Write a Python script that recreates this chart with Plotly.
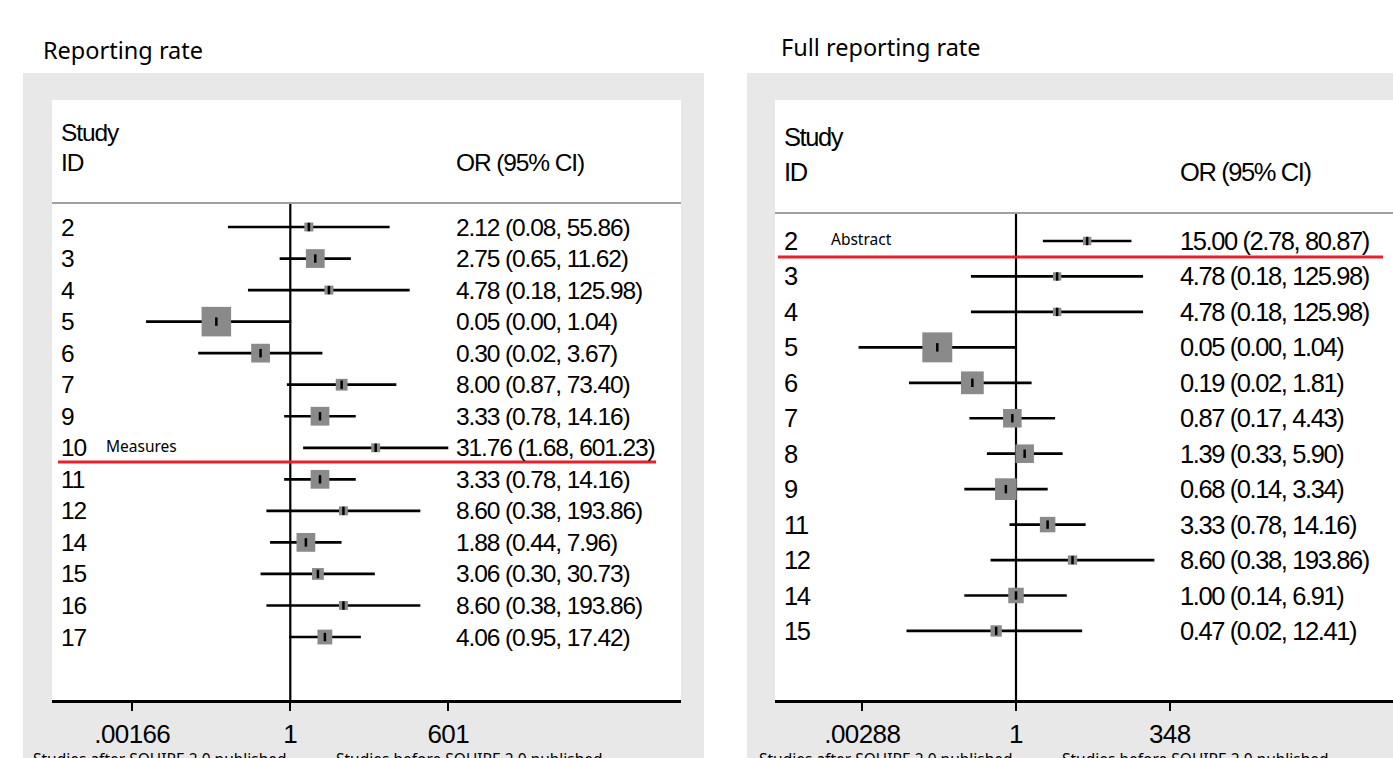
import numpy as np
import plotly.graph_objects as go

W, H = 1393, 758

# ---- Reporting rate ----
ids_a = ["2", "3", "4", "5", "6", "7", "9", "10", "11", "12", "14", "15", "16", "17"]
or_a = [2.12, 2.75, 4.78, 0.05, 0.30, 8.00, 3.33, 31.76, 3.33, 8.60, 1.88, 3.06, 8.60, 4.06]
lo_a = [0.08, 0.65, 0.18, 0.0029, 0.024, 0.87, 0.78, 1.68, 0.78, 0.38, 0.44, 0.30, 0.38, 0.95]
hi_a = [55.86, 11.62, 125.98, 1.04, 3.67, 73.40, 14.16, 601.23, 14.16, 193.86, 7.96, 30.73, 193.86, 17.42]
wt_a = [2.3, 10.1, 2.3, 25.1, 10.1, 4.0, 10.1, 2.3, 10.1, 2.3, 10.1, 4.0, 2.3, 6.3]
ticks_a = [0.00166, 1, 601]
ticktext_a = [".00166", "1", "601"]

# ---- Full reporting rate ----
ids_b = ["2", "3", "4", "5", "6", "7", "8", "9", "11", "12", "14", "15"]
or_b = [15.00, 4.78, 4.78, 0.05, 0.19, 0.87, 1.39, 0.68, 3.33, 8.60, 1.00, 0.47]
lo_b = [2.78, 0.18, 0.18, 0.0025, 0.017, 0.17, 0.33, 0.14, 0.78, 0.38, 0.14, 0.0155]
hi_b = [80.87, 125.98, 125.98, 1.04, 1.81, 4.43, 5.90, 3.34, 14.16, 193.86, 6.91, 12.41]
wt_b = [2.0, 2.0, 2.0, 25.8, 14.9, 9.9, 9.9, 13.5, 6.9, 2.5, 6.9, 3.7]
ticks_b = [0.00288, 1, 348]
ticktext_b = [".00288", "1", "348"]

SANS = "Liberation Sans, Arial, sans-serif"
UI = "Noto Sans, Open Sans, sans-serif"
GRAY_BG = "#e8e8e8"


def px(x):
    return x / W


def py(y):
    return 1 - y / H


def tight(txt, ls):
    # condensed look: pull the glyphs slightly closer together
    return f'<span style="letter-spacing:{ls}px">{txt}</span>'


fig = go.Figure()
shapes = []
annotations = []

panels = [
    dict(ids=ids_a, orv=or_a, lo=lo_a, hi=hi_a, wt=wt_a, ticks=ticks_a, ticktext=ticktext_a,
         xa="x", ya="y", xaxis="xaxis", yaxis="yaxis",
         gray=(23, 73, 704, 758), white=(52, 100, 681, 700),
         one_px=290.3, per_dec=56.85, row0=227, row_step=31.54,
         header_y=203, id_x=59, val_x=454, study_y=132, idhdr_y=162,
         title="Reporting rate", title_x=41, title_y=50, fs=24.5, ls=-1.1,
         note="Measures", note_x=104, note_after=7, red=(58, 656),
         foot=[(31, "Studies after SQUIRE 2.0 published"), (334, "Studies before SQUIRE 2.0 published")]),
    dict(ids=ids_b, orv=or_b, lo=lo_b, hi=hi_b, wt=wt_b, ticks=ticks_b, ticktext=ticktext_b,
         xa="x2", ya="y2", xaxis="xaxis2", yaxis="yaxis2",
         gray=(747, 73, 1393, 758), white=(775, 100, 1393, 700),
         one_px=1016.0, per_dec=60.5, row0=241, row_step=35.45,
         header_y=213, id_x=782, val_x=1178, study_y=137, idhdr_y=172,
         title="Full reporting rate", title_x=779, title_y=47, fs=25.5, ls=-1.4,
         note="Abstract", note_x=829, note_after=0, red=(778, 1383),
         foot=[(757, "Studies after SQUIRE 2.0 published"), (1060, "Studies before SQUIRE 2.0 published")]),
]

layout_axes = {}
for p in panels:
    n = len(p["ids"])
    rows = list(range(n))
    gx0, gy0, gx1, gy1 = p["gray"]
    wx0, wy0, wx1, wy1 = p["white"]
    fs, ls = p["fs"], p["ls"]

    # panel background and plotting region
    shapes.append(dict(type="rect", xref="paper", yref="paper", layer="below",
                       x0=px(gx0), x1=px(gx1), y0=py(gy1), y1=py(gy0),
                       fillcolor=GRAY_BG, line=dict(width=0)))
    shapes.append(dict(type="rect", xref="paper", yref="paper", layer="below",
                       x0=px(wx0), x1=px(wx1), y0=py(wy1), y1=py(wy0),
                       fillcolor="white", line=dict(width=0)))

    # axis ranges so that the log scale sits in the plot column
    xr = [(wx0 - p["one_px"]) / p["per_dec"], (wx1 - p["one_px"]) / p["per_dec"]]
    yr = [(wy1 - p["row0"]) / p["row_step"], (wy0 - p["row0"]) / p["row_step"]]
    header_row = (p["header_y"] - p["row0"]) / p["row_step"]

    layout_axes[p["xaxis"]] = dict(
        type="log", domain=[px(wx0), px(wx1)], range=xr, anchor=p["ya"],
        showgrid=False, zeroline=False, showline=True, linecolor="black", linewidth=2.5,
        ticks="outside", ticklen=8, tickwidth=2, tickcolor="black",
        tickvals=p["ticks"], ticktext=[tight(t, -0.6) for t in p["ticktext"]],
        ticklabelstandoff=1,
        tickfont=dict(family=SANS, size=26, color="black"), fixedrange=True)
    layout_axes[p["yaxis"]] = dict(
        domain=[py(wy1), py(wy0)], range=yr, anchor=p["xa"],
        showgrid=False, zeroline=False, showline=False, showticklabels=False, fixedrange=True)

    # line of no effect
    fig.add_trace(go.Scatter(x=[1, 1], y=[header_row, yr[0]], mode="lines",
                             line=dict(color="black", width=2.2),
                             xaxis=p["xa"], yaxis=p["ya"], hoverinfo="skip", showlegend=False))

    # confidence intervals
    cx, cy = [], []
    for i in rows:
        cx += [p["lo"][i], p["hi"][i], None]
        cy += [i, i, None]
    fig.add_trace(go.Scatter(x=cx, y=cy, mode="lines", line=dict(color="black", width=2.7),
                             xaxis=p["xa"], yaxis=p["ya"], hoverinfo="skip", showlegend=False))

    # weight boxes
    sizes = [5.9 * np.sqrt(w) for w in p["wt"]]
    fig.add_trace(go.Scatter(x=p["orv"], y=rows, mode="markers",
                             marker=dict(symbol="square", size=sizes, color="#8a8a8a",
                                         opacity=1, line=dict(width=0)),
                             xaxis=p["xa"], yaxis=p["ya"], showlegend=False))
    # point estimates
    fig.add_trace(go.Scatter(x=p["orv"], y=rows, mode="markers",
                             marker=dict(symbol="line-ns", size=6,
                                         line=dict(width=2.5, color="black")),
                             xaxis=p["xa"], yaxis=p["ya"], hoverinfo="skip", showlegend=False))

    # header rule
    shapes.append(dict(type="line", xref=p["xa"] + " domain", yref=p["ya"],
                       x0=0, x1=1, y0=header_row, y1=header_row,
                       line=dict(color="#a0a0a0", width=2)))

    # separator in red
    sep = p["note_after"] + 0.45
    shapes.append(dict(type="line", xref="paper", yref=p["ya"],
                       x0=px(p["red"][0]), x1=px(p["red"][1]), y0=sep, y1=sep,
                       line=dict(color="#e8202a", width=3)))

    # header text
    for txt, yy, xx in [("Study", p["study_y"], p["id_x"]), ("ID", p["idhdr_y"], p["id_x"]),
                        ("OR (95% CI)", p["idhdr_y"], p["val_x"])]:
        annotations.append(dict(text=tight(txt, ls), xref="paper", yref="paper", x=px(xx), y=py(yy),
                                xanchor="left", yanchor="middle", showarrow=False,
                                font=dict(family=SANS, size=fs, color="black")))

    # study labels and estimates
    for i in rows:
        annotations.append(dict(text=tight(p["ids"][i], ls), xref="paper", yref=p["ya"],
                                x=px(p["id_x"]), y=i, xanchor="left", yanchor="middle",
                                showarrow=False, font=dict(family=SANS, size=fs, color="black")))
        label = f"{p['orv'][i]:.2f} ({p['lo'][i]:.2f}, {p['hi'][i]:.2f})"
        annotations.append(dict(text=tight(label, ls), xref="paper", yref=p["ya"],
                                x=px(p["val_x"]), y=i, xanchor="left", yanchor="middle",
                                showarrow=False, font=dict(family=SANS, size=fs, color="black")))

    annotations.append(dict(text=p["note"], xref="paper", yref=p["ya"], x=px(p["note_x"]),
                            y=p["note_after"] - 0.05, xanchor="left", yanchor="middle",
                            showarrow=False, font=dict(family=UI, size=15.5, color="black")))

    # panel title
    annotations.append(dict(text=p["title"], xref="paper", yref="paper", x=px(p["title_x"]),
                            y=py(p["title_y"]), xanchor="left", yanchor="middle", showarrow=False,
                            font=dict(family=UI, size=23.5, color="black")))

    # footers under the axis
    for fx, ftxt in p["foot"]:
        annotations.append(dict(text=ftxt, xref="paper", yref="paper", x=px(fx), y=py(746),
                                xanchor="left", yanchor="top", showarrow=False,
                                font=dict(family=UI, size=15.5, color="black")))

fig.update_layout(
    width=W, height=H, margin=dict(l=0, r=0, t=0, b=0),
    paper_bgcolor="white", plot_bgcolor="rgba(0,0,0,0)",
    shapes=shapes, annotations=annotations, showlegend=False,
    **layout_axes,
)

fig.write_html("out.html")
